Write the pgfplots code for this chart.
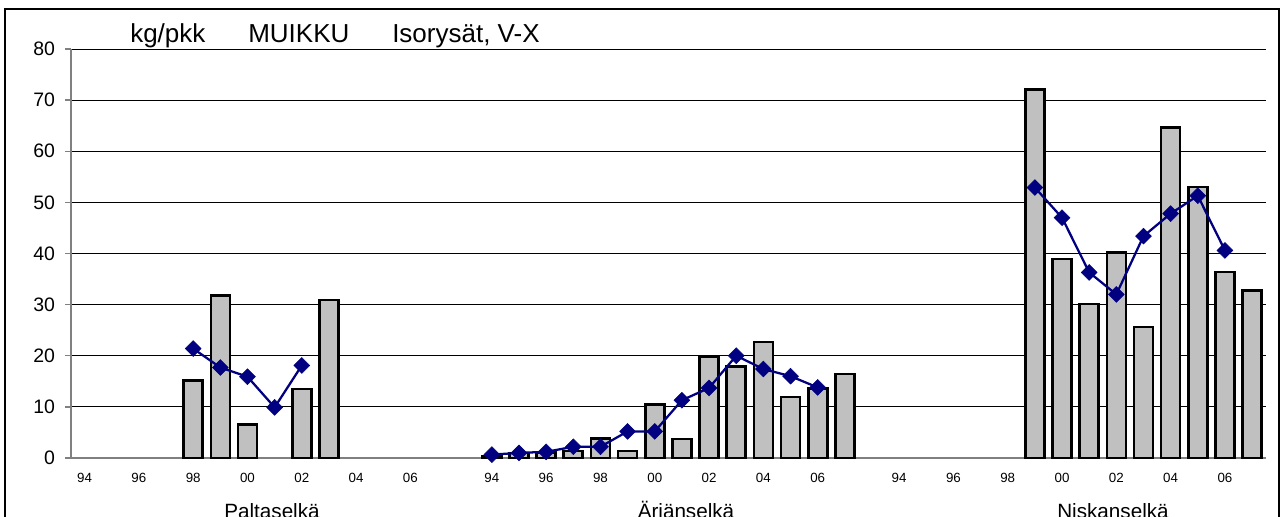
\documentclass[border=0pt]{standalone}
\usepackage{pgfplots}
\pgfplotsset{compat=1.18}
\usepackage{fontspec}
\setmainfont{Liberation Sans}
\definecolor{barfill}{RGB}{192,192,192}
\definecolor{navyline}{RGB}{0,0,128}
\definecolor{axisgray}{RGB}{128,128,128}

\begin{document}
\begin{tikzpicture}[x=0.75pt,y=0.75pt]
\useasboundingbox (0,0) rectangle (1286,517);
% outer chart frame (its bottom edge lies below the picture)
\draw[line width=1.1pt] (5,508) rectangle (1279,-40);
\coordinate (plotorigin) at (71,59);

\begin{axis}[
    at={(plotorigin)}, anchor=south west,
    scale only axis,
    width=896pt, height=306.75pt,
    xmin=-0.5, xmax=43.5,
    ymin=0, ymax=80,
    ytick={0,10,20,30,40,50,60,70,80},
    xtick={0,2,4,6,8,10,12,15,17,19,21,23,25,27,30,32,34,36,38,40,42},
    xticklabels={94,96,98,00,02,04,06,94,96,98,00,02,04,06,94,96,98,00,02,04,06},
    axis x line*=bottom, axis y line*=left,
    axis line style={draw=axisgray, line width=1.1pt},
    ymajorgrids,
    grid style={black, line width=0.75pt},
    tick align=outside,
    major tick length=4.5pt,
    ytick style={draw=axisgray, line width=1pt},
    xtick style={draw=none},
    /pgf/number format/assume math mode=true,
    yticklabel style={font=\fontsize{14.6}{16}\selectfont, xshift=-4pt},
    xticklabel style={font=\fontsize{10}{12}\selectfont, yshift=-3.5pt},
    clip=false,
]

% catch per trap, bars (slots: Paltaselkä 0-13, Äriänselkä 15-28, Niskanselkä 30-43)
\addplot[ybar, bar width=14.25pt, fill=barfill, draw=black, line width=2pt]
coordinates {
    (4,15.1) (5,31.8) (6,6.5) (8,13.5) (9,30.9)
    (15,0.3) (16,1.0) (17,1.1) (18,1.4) (19,3.8) (20,1.4) (21,10.4)
    (22,3.7) (23,19.9) (24,17.9) (25,22.7) (26,11.9) (27,13.6) (28,16.4)
    (35,72.1) (36,38.9) (37,30.1) (38,40.2) (39,25.6) (40,64.6)
    (41,53.0) (42,36.4) (43,32.8)
};

% line series, one per area
\pgfplotsset{linestyle/.style={navyline, line width=1.7pt, mark=square*, mark size=4.2pt,
    mark options={rotate=45, fill=navyline, draw=navyline, line width=0.4pt}}}
\addplot[linestyle] coordinates {
    (4,21.4) (5,17.7) (6,15.9) (7,9.9) (8,18.1)
};
\addplot[linestyle] coordinates {
    (15,0.66) (16,1.0) (17,1.2) (18,2.2) (19,2.2) (20,5.2) (21,5.2)
    (22,11.3) (23,13.7) (24,20.0) (25,17.4) (26,16.0) (27,13.8)
};
\addplot[linestyle] coordinates {
    (35,52.9) (36,47.0) (37,36.3) (38,32.0) (39,43.4) (40,47.8)
    (41,51.3) (42,40.6)
};
\end{axis}

% title
\begin{scope}[every node/.style={anchor=base west, inner sep=0pt, font=\fontsize{19.5}{22}\selectfont}]
\node at (130,474) {kg/pkk};
\node at (248,474) {MUIKKU};
\node at (392,474) {Isorysät, V-X};
\end{scope}

% group labels
\begin{scope}[every node/.style={anchor=base, inner sep=0pt, font=\fontsize{15.5}{17}\selectfont}]
\node at (272,-2) {Paltaselkä};
\node at (686,-2) {Äriänselkä};
\node at (1113,-2) {Niskanselkä};
\end{scope}
\end{tikzpicture}
\end{document}
